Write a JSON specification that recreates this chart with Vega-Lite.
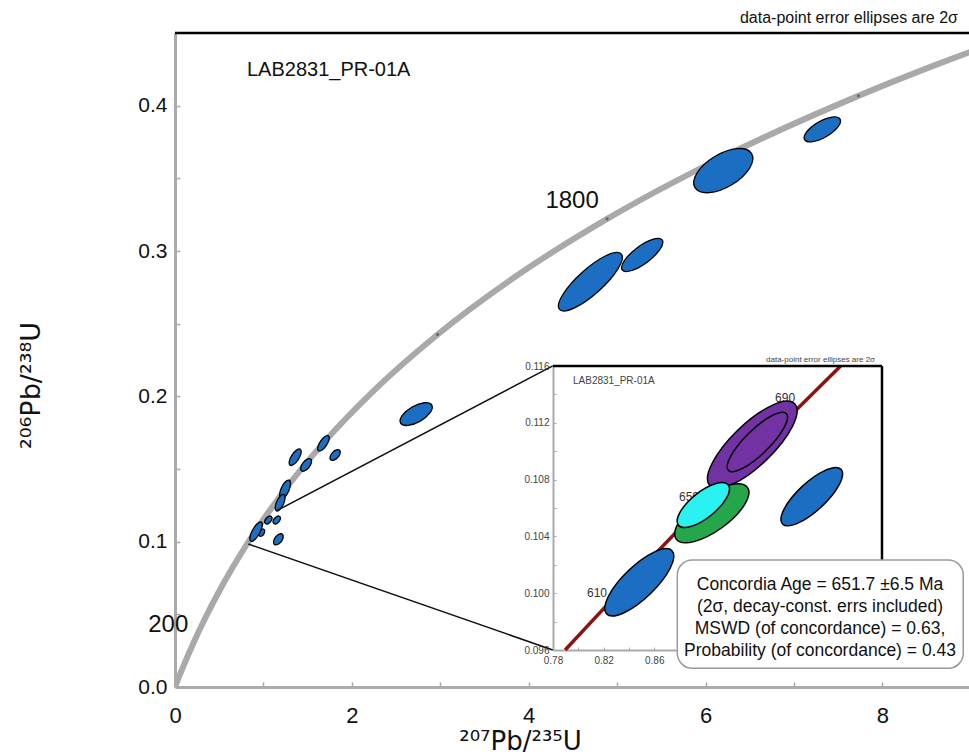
{
  "$schema": "https://vega.github.io/schema/vega-lite/v6.json",
  "width": 794,
  "height": 654,
  "autosize": {"type": "none"},
  "padding": {"left": 175, "top": 33, "right": 0, "bottom": 69},
  "config": {
    "view": {"stroke": null},
    "font": "Liberation Sans, Arial, sans-serif"
  },
  "datasets": {
    "concordia": [
      {"t": 0, "x": 0, "y": 0},
      {"t": 50, "x": 0.05048, "y": 0.00779},
      {"t": 100, "x": 0.1035, "y": 0.01563},
      {"t": 200, "x": 0.21771, "y": 0.03151},
      {"t": 300, "x": 0.34374, "y": 0.04764},
      {"t": 400, "x": 0.48281, "y": 0.06402},
      {"t": 500, "x": 0.63628, "y": 0.08065},
      {"t": 600, "x": 0.80563, "y": 0.09754},
      {"t": 800, "x": 1.19873, "y": 0.13213},
      {"t": 1000, "x": 1.67741, "y": 0.1678},
      {"t": 1200, "x": 2.2603, "y": 0.2046},
      {"t": 1400, "x": 2.97009, "y": 0.24256},
      {"t": 1600, "x": 3.83441, "y": 0.28172},
      {"t": 1800, "x": 4.8869, "y": 0.3221},
      {"t": 2000, "x": 6.16853, "y": 0.36377},
      {"t": 2200, "x": 7.72916, "y": 0.40674},
      {"t": 2300, "x": 8.63257, "y": 0.42873},
      {"t": 2350, "x": 9.11875, "y": 0.43986}
    ],
    "spots": [
      {"kind": "analysis", "x": 4.698, "y": 0.2789, "len": 83, "tilt": 42, "ratio": 0.3},
      {"kind": "analysis", "x": 5.284, "y": 0.2973, "len": 50, "tilt": 37, "ratio": 0.35},
      {"kind": "analysis", "x": 6.201, "y": 0.3553, "len": 66, "tilt": 31, "ratio": 0.5},
      {"kind": "analysis", "x": 7.321, "y": 0.3837, "len": 41, "tilt": 30, "ratio": 0.4},
      {"kind": "analysis", "x": 2.728, "y": 0.1878, "len": 36, "tilt": 30, "ratio": 0.45},
      {"kind": "analysis", "x": 1.359, "y": 0.1581, "len": 19, "tilt": 57, "ratio": 0.4},
      {"kind": "analysis", "x": 1.679, "y": 0.1677, "len": 18, "tilt": 56, "ratio": 0.4},
      {"kind": "analysis", "x": 1.483, "y": 0.1528, "len": 15, "tilt": 52, "ratio": 0.5},
      {"kind": "analysis", "x": 1.811, "y": 0.1596, "len": 13, "tilt": 47, "ratio": 0.55},
      {"kind": "analysis", "x": 1.245, "y": 0.136, "len": 20, "tilt": 66, "ratio": 0.4},
      {"kind": "analysis", "x": 1.189, "y": 0.1268, "len": 18, "tilt": 66, "ratio": 0.4},
      {"kind": "analysis", "x": 1.056, "y": 0.1149, "len": 9, "tilt": 50, "ratio": 0.6},
      {"kind": "analysis", "x": 1.151, "y": 0.1149, "len": 9, "tilt": 50, "ratio": 0.6},
      {"kind": "analysis", "x": 0.982, "y": 0.1062, "len": 8, "tilt": 60, "ratio": 0.6},
      {"kind": "analysis", "x": 0.917, "y": 0.1069, "len": 22, "tilt": 61, "ratio": 0.35},
      {"kind": "analysis", "x": 1.169, "y": 0.1016, "len": 13, "tilt": 52, "ratio": 0.55}
    ],
    "zoomLinks": [
      {"x": 1.15, "y": 0.1213, "x2": 4.272, "y2": 0.2209},
      {"x": 0.829, "y": 0.0984, "x2": 4.272, "y2": 0.0255}
    ],
    "plotFrameTop": [{"x": 0, "x2": 8.98, "y": 0.45}],
    "plotNotes": [
      {"note": "LAB2831_PR-01A", "x": 0.814, "y": 0.4245}
    ],
    "plotCaption": [
      {"note": "data-point error ellipses are 2σ", "x": 8.855, "y": 0.4603}
    ],
    "insetConcordia": [
      {"t": 590.9, "x": 0.78958, "y": 0.096},
      {"t": 610, "x": 0.8235, "y": 0.09925},
      {"t": 650, "x": 0.89677, "y": 0.10609},
      {"t": 690, "x": 0.97298, "y": 0.11297},
      {"t": 707.5, "x": 1.00729, "y": 0.116}
    ],
    "insetSpots": [
      {"kind": "analysis", "x": 0.8482, "y": 0.10077, "len": 91, "tilt": 44, "ratio": 0.35},
      {"kind": "analysis", "x": 0.9845, "y": 0.1068, "len": 80, "tilt": 43, "ratio": 0.35},
      {"kind": "subset 2", "x": 0.9375, "y": 0.11045, "len": 118, "tilt": 44, "ratio": 0.35},
      {"kind": "subset 2", "x": 0.9415, "y": 0.11065, "len": 81, "tilt": 44.5, "ratio": 0.3},
      {"kind": "subset 1", "x": 0.9055, "y": 0.10563, "len": 88, "tilt": 36, "ratio": 0.4},
      {"kind": "concordia age", "x": 0.8988, "y": 0.10621, "len": 64, "tilt": 39, "ratio": 0.4}
    ],
    "insetAgeLabels": [
      {"label": "610", "x": 0.8148, "y": 0.1},
      {"label": "650", "x": 0.8875, "y": 0.10678},
      {"label": "690", "x": 0.9634, "y": 0.11375}
    ],
    "insetFrameTop": [{"x": 0.78, "x2": 1.04, "y": 0.116}],
    "insetFrameRight": [{"x": 1.04, "y": 0.096, "y2": 0.116}],
    "insetNotes": [
      {"note": "LAB2831_PR-01A", "x": 0.7958, "y": 0.11494}
    ],
    "insetCaption": [
      {"note": "data-point error ellipses are 2σ", "x": 1.0345, "y": 0.11642}
    ],
    "resultBox": [
      {"x": 5.681, "x2": 8.915, "y": 0.0874, "y2": 0.0129, "tx": 7.295, "ty": 0.070,
       "text": "Concordia Age = 651.7 ±6.5 Ma\n(2σ, decay-const. errs included)\nMSWD (of concordance) = 0.63,\nProbability (of concordance) = 0.43"}
    ]
  },
  "resolve": {"scale": {"x": "independent", "y": "independent"}},
  "layer": [
    {
      "layer": [
        {
          "data": {"name": "concordia"},
          "mark": {"type": "line", "color": "#a9a9a9", "strokeWidth": 6, "interpolate": "monotone", "clip": true},
          "encoding": {
            "x": {
              "field": "x", "type": "quantitative",
              "scale": {"domain": [0, 8.98], "nice": false, "zero": false},
              "axis": {
                "orient": "bottom",
                "values": [0, 1, 2, 3, 4, 5, 6, 7, 8],
                "format": "d",
                "labelExpr": "datum.value % 2 == 0 ? datum.label : ''",
                "labelFlush": false,
                "grid": false,
                "domainColor": "#aaaaaa", "domainWidth": 3,
                "tickColor": "#aaaaaa", "tickWidth": 1.5, "tickSize": -5,
                "labelFontSize": 22, "labelColor": "#111111", "labelPadding": 23,
                "title": "²⁰⁷Pb/²³⁵U", "titleFont": "DejaVu Sans", "titleFontSize": 26, "titleFontWeight": "normal",
                "titleColor": "#111111", "titleX": 345, "titlePadding": 2
              }
            },
            "y": {
              "field": "y", "type": "quantitative",
              "scale": {"domain": [0, 0.45], "nice": false, "zero": false},
              "axis": {
                "orient": "left",
                "values": [0, 0.05, 0.1, 0.15, 0.2, 0.25, 0.3, 0.35, 0.4],
                "format": ".1f",
                "labelExpr": "round(datum.value * 100) % 10 == 0 ? datum.label : ''",
                "labelFlush": false,
                "grid": false,
                "domainColor": "#aaaaaa", "domainWidth": 3,
                "tickColor": "#aaaaaa", "tickWidth": 1.5, "tickSize": -5,
                "labelFontSize": 21, "labelColor": "#111111", "labelPadding": 13,
                "title": "²⁰⁶Pb/²³⁸U", "titleFont": "DejaVu Sans", "titleFontSize": 27, "titleFontWeight": "normal",
                "titleColor": "#111111", "titleY": 352, "titlePadding": 92
              }
            }
          }
        },
        {
          "data": {"name": "concordia"},
          "transform": [{"filter": "datum.t == 1400 || datum.t == 1800 || datum.t == 2200"}],
          "mark": {"type": "point", "filled": true, "color": "#666666", "size": 10, "shape": "circle", "opacity": 1},
          "encoding": {
            "x": {"field": "x", "type": "quantitative"},
            "y": {"field": "y", "type": "quantitative"}
          }
        },
        {
          "data": {"name": "concordia"},
          "transform": [{"filter": "datum.t == 1800"}],
          "mark": {"type": "text", "fontSize": 24, "color": "#111111", "align": "center", "baseline": "middle", "dx": -35, "dy": -18},
          "encoding": {
            "x": {"field": "x", "type": "quantitative"},
            "y": {"field": "y", "type": "quantitative"},
            "text": {"field": "t", "type": "nominal"}
          }
        },
        {
          "data": {"name": "concordia"},
          "transform": [{"filter": "datum.t == 200"}],
          "mark": {"type": "text", "fontSize": 24, "color": "#111111", "align": "center", "baseline": "middle", "dx": -26, "dy": -16},
          "encoding": {
            "x": {"field": "x", "type": "quantitative"},
            "y": {"field": "y", "type": "quantitative"},
            "text": {"field": "t", "type": "nominal"}
          }
        },
        {
          "data": {"name": "spots"},
          "mark": {"type": "point", "filled": true, "stroke": "#000000", "strokeWidth": 1.3, "opacity": 1, "fillOpacity": 1},
          "encoding": {
            "x": {"field": "x", "type": "quantitative"},
            "y": {"field": "y", "type": "quantitative"},
            "fill": {
              "field": "kind", "type": "nominal", "legend": null,
              "scale": {"domain": ["analysis", "subset 1", "subset 2", "concordia age"], "range": ["#1b6ec2", "#25a64b", "#7232a3", "#2af2f0"]}
            },
            "size": {"field": "len", "type": "quantitative", "legend": null, "scale": {"type": "pow", "exponent": 2, "domain": [0, 120], "range": [0, 14400]}},
            "angle": {"field": "tilt", "type": "quantitative", "legend": null, "scale": {"domain": [0, 90], "range": [360, 270]}},
            "shape": {
              "field": "ratio", "type": "ordinal", "legend": null,
              "scale": {
                "domain": [0.3, 0.35, 0.4, 0.45, 0.5, 0.55, 0.6],
                "range": [
                  "M-1,0C-1,-0.1657,-0.5523,-0.3,0,-0.3C0.5523,-0.3,1,-0.1657,1,0C1,0.1657,0.5523,0.3,0,0.3C-0.5523,0.3,-1,0.1657,-1,0Z",
                  "M-1,0C-1,-0.1933,-0.5523,-0.35,0,-0.35C0.5523,-0.35,1,-0.1933,1,0C1,0.1933,0.5523,0.35,0,0.35C-0.5523,0.35,-1,0.1933,-1,0Z",
                  "M-1,0C-1,-0.2209,-0.5523,-0.4,0,-0.4C0.5523,-0.4,1,-0.2209,1,0C1,0.2209,0.5523,0.4,0,0.4C-0.5523,0.4,-1,0.2209,-1,0Z",
                  "M-1,0C-1,-0.2485,-0.5523,-0.45,0,-0.45C0.5523,-0.45,1,-0.2485,1,0C1,0.2485,0.5523,0.45,0,0.45C-0.5523,0.45,-1,0.2485,-1,0Z",
                  "M-1,0C-1,-0.2762,-0.5523,-0.5,0,-0.5C0.5523,-0.5,1,-0.2762,1,0C1,0.2762,0.5523,0.5,0,0.5C-0.5523,0.5,-1,0.2762,-1,0Z",
                  "M-1,0C-1,-0.3038,-0.5523,-0.55,0,-0.55C0.5523,-0.55,1,-0.3038,1,0C1,0.3038,0.5523,0.55,0,0.55C-0.5523,0.55,-1,0.3038,-1,0Z",
                  "M-1,0C-1,-0.3314,-0.5523,-0.6,0,-0.6C0.5523,-0.6,1,-0.3314,1,0C1,0.3314,0.5523,0.6,0,0.6C-0.5523,0.6,-1,0.3314,-1,0Z"
                ]
              }
            }
          }
        },
        {
          "data": {"name": "zoomLinks"},
          "mark": {"type": "rule", "color": "#111111", "strokeWidth": 1.5},
          "encoding": {
            "x": {"field": "x", "type": "quantitative"},
            "y": {"field": "y", "type": "quantitative"},
            "x2": {"field": "x2"},
            "y2": {"field": "y2"}
          }
        },
        {
          "data": {"name": "plotFrameTop"},
          "mark": {"type": "rule", "color": "#000000", "strokeWidth": 2.5},
          "encoding": {
            "x": {"field": "x", "type": "quantitative"},
            "x2": {"field": "x2"},
            "y": {"field": "y", "type": "quantitative"}
          }
        },
        {
          "data": {"name": "plotNotes"},
          "mark": {"type": "text", "fontSize": 20, "color": "#111111", "align": "left", "baseline": "middle"},
          "encoding": {
            "x": {"field": "x", "type": "quantitative"},
            "y": {"field": "y", "type": "quantitative"},
            "text": {"field": "note", "type": "nominal"}
          }
        },
        {
          "data": {"name": "plotCaption"},
          "mark": {"type": "text", "fontSize": 16, "color": "#111111", "align": "right", "baseline": "middle"},
          "encoding": {
            "x": {"field": "x", "type": "quantitative"},
            "y": {"field": "y", "type": "quantitative"},
            "text": {"field": "note", "type": "nominal"}
          }
        }
      ]
    },
    {
      "layer": [
        {
          "data": {"name": "insetConcordia"},
          "mark": {"type": "line", "color": "#8a1414", "strokeWidth": 3.5, "interpolate": "monotone"},
          "encoding": {
            "x": {
              "field": "x", "type": "quantitative",
              "scale": {"domain": [0.78, 1.04], "range": [378, 707], "nice": false, "zero": false},
              "axis": {
                "orient": "bottom", "offset": -37,
                "values": [0.78, 0.8, 0.82, 0.84, 0.86, 0.88, 0.9, 0.92, 0.94, 0.96, 0.98, 1.0, 1.02, 1.04],
                "format": ".2f",
                "labelExpr": "datum.value < 0.87 && round(datum.value * 100) % 4 == 2 ? datum.label : ''",
                "labelFlush": false,
                "grid": false,
                "domainColor": "#aaaaaa", "domainWidth": 2,
                "tickColor": "#aaaaaa", "tickWidth": 1, "tickSize": -3,
                "labelFontSize": 10, "labelColor": "#444444", "labelPadding": 8,
                "title": null
              }
            },
            "y": {
              "field": "y", "type": "quantitative",
              "scale": {"domain": [0.096, 0.116], "range": [617, 333], "nice": false, "zero": false},
              "axis": {
                "orient": "left", "offset": -378,
                "values": [0.096, 0.098, 0.1, 0.102, 0.104, 0.106, 0.108, 0.11, 0.112, 0.114, 0.116],
                "format": ".3f",
                "labelExpr": "round(datum.value * 1000) % 4 == 0 ? datum.label : ''",
                "labelFlush": false,
                "grid": false,
                "domainColor": "#aaaaaa", "domainWidth": 2,
                "tickColor": "#aaaaaa", "tickWidth": 1, "tickSize": -3,
                "labelFontSize": 10, "labelColor": "#444444", "labelPadding": 7,
                "title": null
              }
            }
          }
        },
        {
          "data": {"name": "insetFrameTop"},
          "mark": {"type": "rule", "color": "#000000", "strokeWidth": 2.5},
          "encoding": {
            "x": {"field": "x", "type": "quantitative"},
            "x2": {"field": "x2"},
            "y": {"field": "y", "type": "quantitative"}
          }
        },
        {
          "data": {"name": "insetFrameRight"},
          "mark": {"type": "rule", "color": "#000000", "strokeWidth": 2.5},
          "encoding": {
            "x": {"field": "x", "type": "quantitative"},
            "y": {"field": "y", "type": "quantitative"},
            "y2": {"field": "y2"}
          }
        },
        {
          "data": {"name": "insetAgeLabels"},
          "mark": {"type": "text", "fontSize": 12, "color": "#333333", "align": "center", "baseline": "middle"},
          "encoding": {
            "x": {"field": "x", "type": "quantitative"},
            "y": {"field": "y", "type": "quantitative"},
            "text": {"field": "label", "type": "nominal"}
          }
        },
        {
          "data": {"name": "insetNotes"},
          "mark": {"type": "text", "fontSize": 10, "color": "#444444", "align": "left", "baseline": "middle"},
          "encoding": {
            "x": {"field": "x", "type": "quantitative"},
            "y": {"field": "y", "type": "quantitative"},
            "text": {"field": "note", "type": "nominal"}
          }
        },
        {
          "data": {"name": "insetCaption"},
          "mark": {"type": "text", "fontSize": 8, "color": "#444444", "align": "right", "baseline": "middle"},
          "encoding": {
            "x": {"field": "x", "type": "quantitative"},
            "y": {"field": "y", "type": "quantitative"},
            "text": {"field": "note", "type": "nominal"}
          }
        },
        {
          "data": {"name": "insetSpots"},
          "mark": {"type": "point", "filled": true, "stroke": "#000000", "strokeWidth": 1.5, "opacity": 1, "fillOpacity": 1},
          "encoding": {
            "x": {"field": "x", "type": "quantitative"},
            "y": {"field": "y", "type": "quantitative"},
            "fill": {"field": "kind", "type": "nominal", "legend": null},
            "size": {"field": "len", "type": "quantitative", "legend": null},
            "angle": {"field": "tilt", "type": "quantitative", "legend": null},
            "shape": {"field": "ratio", "type": "ordinal", "legend": null}
          }
        }
      ]
    },
    {
      "data": {"name": "resultBox"},
      "layer": [
        {
          "mark": {"type": "rect", "fill": "#ffffff", "stroke": "#9a9a9a", "strokeWidth": 1.5, "cornerRadius": 15},
          "encoding": {
            "x": {"field": "x", "type": "quantitative", "scale": {"domain": [0, 8.98], "nice": false, "zero": false}, "axis": null},
            "x2": {"field": "x2"},
            "y": {"field": "y", "type": "quantitative", "scale": {"domain": [0, 0.45], "nice": false, "zero": false}, "axis": null},
            "y2": {"field": "y2"}
          }
        },
        {
          "mark": {"type": "text", "fontSize": 17.5, "color": "#111111", "align": "center", "baseline": "middle", "lineBreak": "\n", "lineHeight": 22},
          "encoding": {
            "x": {"field": "tx", "type": "quantitative"},
            "y": {"field": "ty", "type": "quantitative"},
            "text": {"field": "text", "type": "nominal"}
          }
        }
      ]
    }
  ]
}
